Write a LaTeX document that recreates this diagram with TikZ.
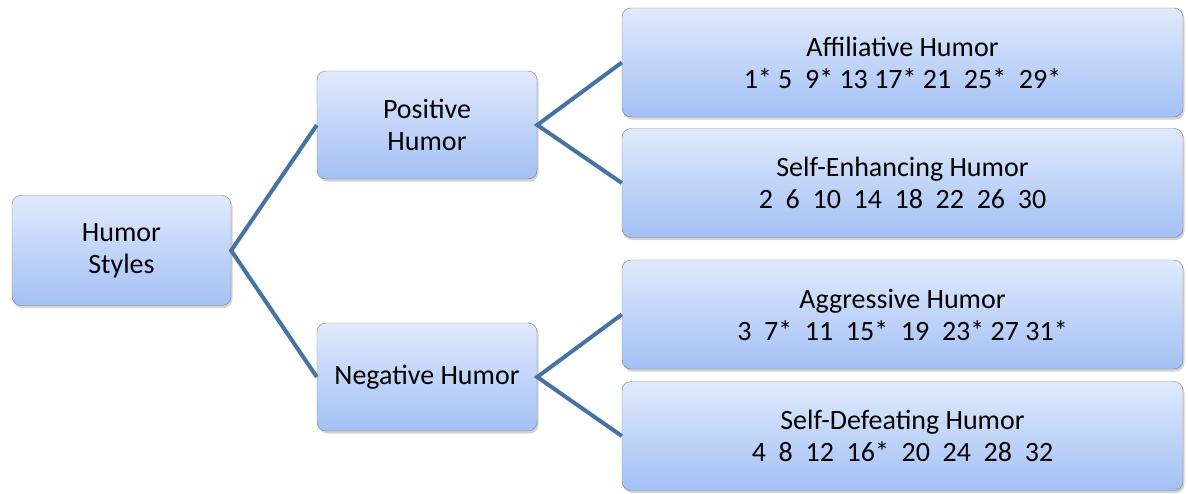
\documentclass[tikz,border=0pt]{standalone}
\usepackage{fontspec}
\setmainfont{Carlito}
\usepackage{tikz}
\usetikzlibrary{shadows}

\definecolor{boxtop}{RGB}{224,234,252}
\definecolor{boxbottom}{RGB}{163,192,245}
\definecolor{linkblue}{RGB}{70,114,164}

\begin{document}
\begin{tikzpicture}[x=1pt, y=-1pt,
					box/.style={draw=black!50, thin, rounded corners=9pt,
						top color=boxtop, bottom color=boxbottom,
						drop shadow={opacity=0.35, shadow xshift=1.5pt, shadow yshift=-2.5pt},
						align=center, inner sep=0pt,
						font=\fontsize{28}{32}\selectfont},
					midbox/.style={box, minimum width=220pt, minimum height=108pt},
					leafbox/.style={box, minimum width=561pt, minimum height=109pt},
					link/.style={draw=linkblue, line width=4pt}]
\useasboundingbox (0,0) rectangle (1188,493);

\node[box, minimum width=219pt, minimum height=110pt] (styles) at (121.5,250.5) {Humor\\Styles};
\node[midbox] (pos) at (427,125) {Positive\\Humor};
\node[midbox] (neg) at (427,377) {Negative Humor};
\node[leafbox] (aff) at (902.5,62.5) {Affiliative Humor\\1*~5~~9*~13~17*~21~~25*~~29*};
\node[leafbox] (enh) at (902.5,183) {Self-Enhancing Humor\\2~~6~~10~~14~~18~~22~~26~~30};
\node[leafbox] (agg) at (902.5,314.5) {Aggressive Humor\\3~~7*~~11~~15*~~19~~23*~27~31*};
\node[leafbox] (def) at (902.5,436) {Self-Defeating Humor\\4~~8~~12~~16*~~20~~24~~28~~32};

\draw[link] (pos.west) -- (styles.east) -- (neg.west);
\draw[link] (aff.west) -- (pos.east) -- (enh.west);
\draw[link] (agg.west) -- (neg.east) -- (def.west);
\end{tikzpicture}
\end{document}
